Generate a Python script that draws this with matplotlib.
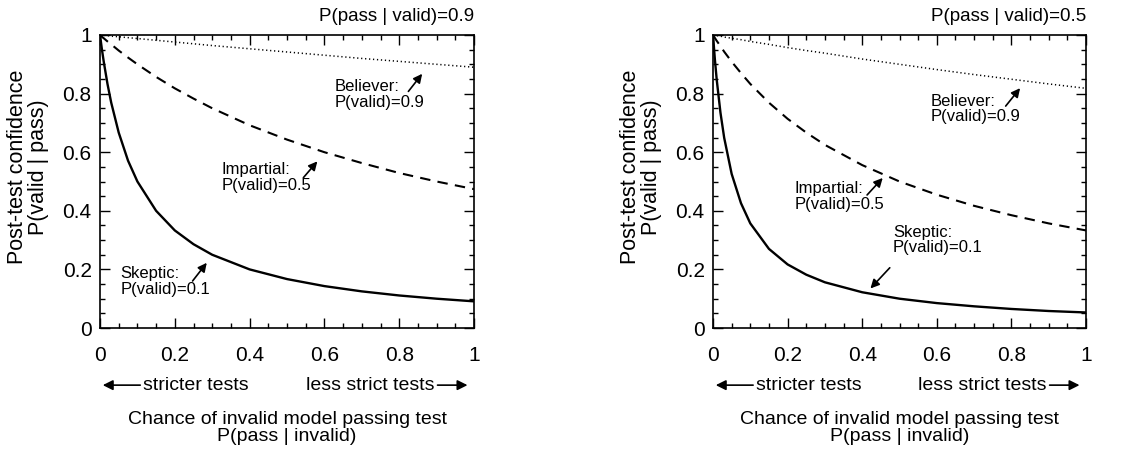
import matplotlib.pyplot as plt
from matplotlib.ticker import MultipleLocator, FixedFormatter, FixedLocator

plt.rcParams['font.family'] = ['Liberation Sans', 'DejaVu Sans']

# P(pass | invalid)
x = [0, 0.005, 0.01, 0.02, 0.03, 0.05, 0.075, 0.1, 0.15, 0.2, 0.25, 0.3,
     0.4, 0.5, 0.6, 0.7, 0.8, 0.9, 1.0]

# left panel, P(pass | valid)=0.9
skeptic_a = [1, 0.952, 0.909, 0.833, 0.769, 0.667, 0.571, 0.5, 0.4, 0.333, 0.286, 0.25,
             0.2, 0.167, 0.143, 0.125, 0.111, 0.1, 0.091]
impartial_a = [1, 0.994, 0.989, 0.978, 0.968, 0.947, 0.923, 0.9, 0.857, 0.818, 0.783, 0.75,
               0.692, 0.643, 0.6, 0.563, 0.529, 0.5, 0.474]
believer_a = [1, 0.999, 0.999, 0.998, 0.996, 0.994, 0.991, 0.988, 0.982, 0.976, 0.970, 0.964,
              0.953, 0.942, 0.931, 0.920, 0.910, 0.9, 0.890]

# right panel, P(pass | valid)=0.5
skeptic_b = [1, 0.917, 0.847, 0.735, 0.649, 0.526, 0.426, 0.357, 0.270, 0.217, 0.182, 0.156,
             0.122, 0.1, 0.085, 0.074, 0.065, 0.058, 0.053]
impartial_b = [1, 0.990, 0.980, 0.962, 0.943, 0.909, 0.870, 0.833, 0.769, 0.714, 0.667, 0.625,
               0.556, 0.5, 0.455, 0.417, 0.385, 0.357, 0.333]
believer_b = [1, 0.999, 0.998, 0.996, 0.993, 0.989, 0.984, 0.978, 0.968, 0.957, 0.947, 0.938,
              0.918, 0.9, 0.882, 0.865, 0.849, 0.833, 0.818]

tick_vals = [0, 0.2, 0.4, 0.6, 0.8, 1]
tick_txt = ['0', '0.2', '0.4', '0.6', '0.8', '1']

fig = plt.figure(figsize=(11.41, 4.5), dpi=100)
ax1 = fig.add_axes([100/1141, 122/450, 374/1141, 293/450])
ax2 = fig.add_axes([713/1141, 122/450, 373/1141, 293/450])


def setup(ax, title, ylab_x):
    ax.set_xlim(0, 1)
    ax.set_ylim(0, 1)
    for axis in (ax.xaxis, ax.yaxis):
        axis.set_major_locator(FixedLocator(tick_vals))
        axis.set_major_formatter(FixedFormatter(tick_txt))
        axis.set_minor_locator(MultipleLocator(0.05))
    ax.tick_params(which='both', direction='in', top=True, right=True, width=1)
    ax.tick_params(which='major', length=7, labelsize=15)
    ax.tick_params(which='minor', length=3.5)
    ax.tick_params(axis='x', pad=13)
    ax.tick_params(axis='y', pad=6)
    for s in ax.spines.values():
        s.set_linewidth(1.2)
    ax.text(1.0, 1.035, title, transform=ax.transAxes, ha='right', va='bottom', fontsize=13.5)
    fig.text(ylab_x, 0.629, 'Post-test confidence\nP(valid | pass)', rotation=90,
             ha='center', va='center', fontsize=15.5, linespacing=0.95)
    ax.text(0.5, -0.34, 'Chance of invalid model passing test\nP(pass | invalid)',
            transform=ax.transAxes, ha='center', va='center', fontsize=14, linespacing=1.0)
    ax.text(0.115, -0.195, 'stricter tests', transform=ax.transAxes, ha='left', va='center', fontsize=14)
    ax.text(0.895, -0.195, 'less strict tests', transform=ax.transAxes, ha='right', va='center', fontsize=14)
    ax.annotate('', xy=(0.0, -0.195), xytext=(0.115, -0.195), xycoords='axes fraction',
                arrowprops=dict(arrowstyle='-|>', color='black', lw=1.2, mutation_scale=15),
                annotation_clip=False)
    ax.annotate('', xy=(0.99, -0.195), xytext=(0.895, -0.195), xycoords='axes fraction',
                arrowprops=dict(arrowstyle='-|>', color='black', lw=1.2, mutation_scale=15),
                annotation_clip=False)


def curves(ax, sk, im, be):
    ax.plot(x, sk, color='black', lw=1.7, solid_capstyle='butt')
    ax.plot(x, im, color='black', lw=1.5, dashes=(5, 3.5))
    ax.plot(x, be, color='black', lw=1.1, dashes=(0.8, 1.8))


def label(ax, txt, pos, tail, head):
    ax.text(pos[0], pos[1], txt, fontsize=12, ha='left', va='top', linespacing=1.05)
    ax.annotate('', xy=head, xytext=tail,
                arrowprops=dict(arrowstyle='-|>', color='black', lw=1.2, mutation_scale=13))


setup(ax1, 'P(pass | valid)=0.9', 28/1141)
curves(ax1, skeptic_a, impartial_a, believer_a)
label(ax1, 'Believer:\nP(valid)=0.9', (0.628, 0.85), (0.82, 0.80), (0.866, 0.875))
label(ax1, 'Impartial:\nP(valid)=0.5', (0.325, 0.565), (0.539, 0.506), (0.586, 0.576))
label(ax1, 'Skeptic:\nP(valid)=0.1', (0.055, 0.21), (0.243, 0.153), (0.29, 0.23))

setup(ax2, 'P(pass | valid)=0.5', 641/1141)
curves(ax2, skeptic_b, impartial_b, believer_b)
label(ax2, 'Believer:\nP(valid)=0.9', (0.584, 0.80), (0.78, 0.75), (0.828, 0.826))
label(ax2, 'Impartial:\nP(valid)=0.5', (0.218, 0.50), (0.408, 0.447), (0.46, 0.519))
label(ax2, 'Skeptic:\nP(valid)=0.1', (0.482, 0.352), (0.479, 0.2125), (0.417, 0.128))

fig.savefig('out.png', dpi=100)
